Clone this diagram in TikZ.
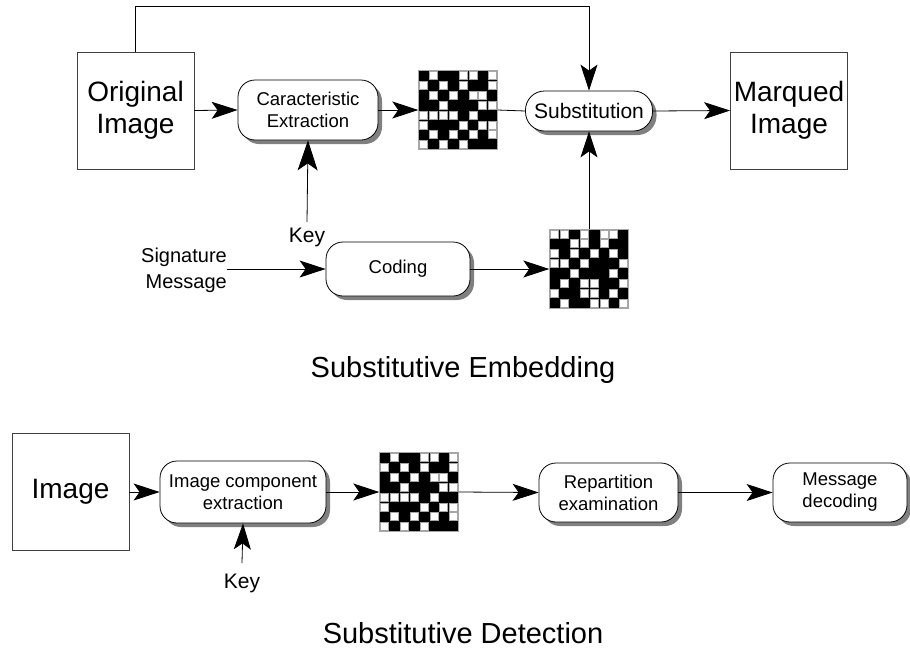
\documentclass[tikz,border=0pt]{standalone}
\usepackage{fontspec}
\setmainfont{Liberation Sans}
\usetikzlibrary{arrows.meta,shadows,calc}
\newcommand\mygrid[2]{%
  \fill[black] (#1.north west) rectangle (#1.south east);
  \foreach \gridrow [count=\ri from 0] in {#2} {
    \foreach \gv [count=\ci from 0] in \gridrow {
      \ifnum\gv=0
        \filldraw[fill=white,draw=gray!70,line width=0.5pt] ($(#1.north west)+(\ci*9.9+1.0,\ri*9.9+1.0)$) rectangle ++(8.0,8.0);
      \fi
    }
  }
  \draw[gray!70,line width=0.6pt] (#1.north west) rectangle (#1.south east);
}
\begin{document}
\begin{tikzpicture}[x=1pt,y=-1pt,
  sqbox/.style={draw=black!75,line width=0.8pt,fill=white,minimum width=117pt,minimum height=117pt,inner sep=0pt,align=center,font=\fontsize{28}{32}\selectfont},
  rbox/.style={draw,line width=0.8pt,fill=white,rounded corners=17pt,inner sep=0pt,align=center,font=\fontsize{18.5}{22}\selectfont,
    drop shadow={shadow xshift=4pt,shadow yshift=-4pt,fill=black!50,opacity=1}},
  gridbox/.style={minimum width=79pt,minimum height=79pt,inner sep=0pt,draw=none},
  arr/.style={line width=0.8pt,-{Stealth[length=26pt,width=17pt,inset=6pt]}},
  bigarr/.style={line width=0.8pt,-{Stealth[length=30pt,width=20pt,inset=7pt]}},
  ln/.style={line width=0.8pt},
  lbl/.style={font=\fontsize{21}{24}\selectfont,inner sep=0pt},
  title/.style={font=\fontsize{29}{32}\selectfont,inner sep=0pt}]
\useasboundingbox[fill=white] (0,0) rectangle (910,651);

% ---------- Embedding ----------
\node[sqbox] (orig) at (135.5,110.5) {Original\\Image};
\node[rbox,minimum width=140pt,minimum height=60pt] (car) at (308,110) {Caracteristic\\Extraction};
\node[gridbox] (g1) at (458,110) {};
\node[rbox,minimum width=127pt,minimum height=40pt,rounded corners=19pt,font=\fontsize{21}{24}\selectfont] (sub) at (589,111) {Substitution};
\node[sqbox] (marq) at (789,110.5) {Marqued\\Image};
\node[rbox,minimum width=144pt,minimum height=54pt] (cod) at (398,269) {Coding};
\node[gridbox] (g2) at (589,268.5) {};
\node[lbl] (key1) at (307,237) {Key};
\node[lbl,anchor=east,align=right,font=\fontsize{20}{26}\selectfont] (sig) at (227,270) {Signature\\Message};
\node[title] (t1) at (463,370) {Substitutive Embedding};
\coordinate (top) at (589,6);
\coordinate (k1) at (307,222);

\mygrid{g1}{{1,0,1,1,0,0,1,0},{0,1,0,1,0,1,1,0},{1,0,1,0,1,0,0,1},{1,1,0,1,1,1,0,0},{0,0,0,0,1,0,1,1},{0,1,1,1,0,1,0,0},{1,0,1,0,1,0,1,0},{0,1,0,1,0,1,1,1}}
\mygrid{g2}{{0,0,1,0,1,0,0,1},{1,1,0,0,1,0,1,1},{0,1,0,1,0,1,0,1},{0,0,1,0,1,1,1,0},{1,1,0,1,1,1,0,1},{1,0,1,0,0,1,1,0},{0,1,1,0,0,1,0,1},{1,0,1,1,0,0,1,0}}

\draw[arr] (orig.east) -- (car.west);
\draw[arr] (car.east) -- (g1.west);
\draw[ln] (g1.east) -- (sub.west);
\draw[arr] (sub.east) -- (marq.west);
\draw[arr] (orig.north) |- (top) -- (sub.north);
\draw[bigarr] (k1) -- (car.south);
\draw[arr] (sig.east |- cod.west) -- (cod.west);
\draw[arr] (cod.east) -- (cod.east -| g2.west);
\draw[arr] (g2.north) -- (sub.south);

% ---------- Detection ----------
\node[sqbox] (img) at (70.5,492) {Image};
\node[rbox,minimum width=166pt,minimum height=62pt] (ice) at (243,492) {Image component\\extraction};
\node[gridbox] (g3) at (419,492) {};
\node[rbox,minimum width=139pt,minimum height=59pt] (rep) at (608.5,492.5) {Repartition\\examination};
\node[rbox,minimum width=134pt,minimum height=59pt] (msg) at (840,492.5) {Message\\decoding};
\node[lbl] (key2) at (242,583) {Key};
\node[title] (t2) at (463,633) {Substitutive Detection};
\coordinate (k2) at (242,563);

\mygrid{g3}{{1,0,1,1,0,0,1,0},{0,1,0,1,0,1,1,0},{1,0,1,0,1,0,0,1},{1,1,0,1,1,1,0,0},{0,0,0,0,1,0,1,1},{0,1,1,1,0,1,0,0},{1,0,1,0,1,0,1,0},{0,1,0,1,0,1,1,1}}

\draw[arr] (img.east) -- (ice.west);
\draw[arr] (ice.east) -- (g3.west);
\draw[arr] (g3.east) -- (rep.west);
\draw[arr] (rep.east) -- (msg.west);
\draw[arr] (k2) -- (ice.south);
\end{tikzpicture}
\end{document}
